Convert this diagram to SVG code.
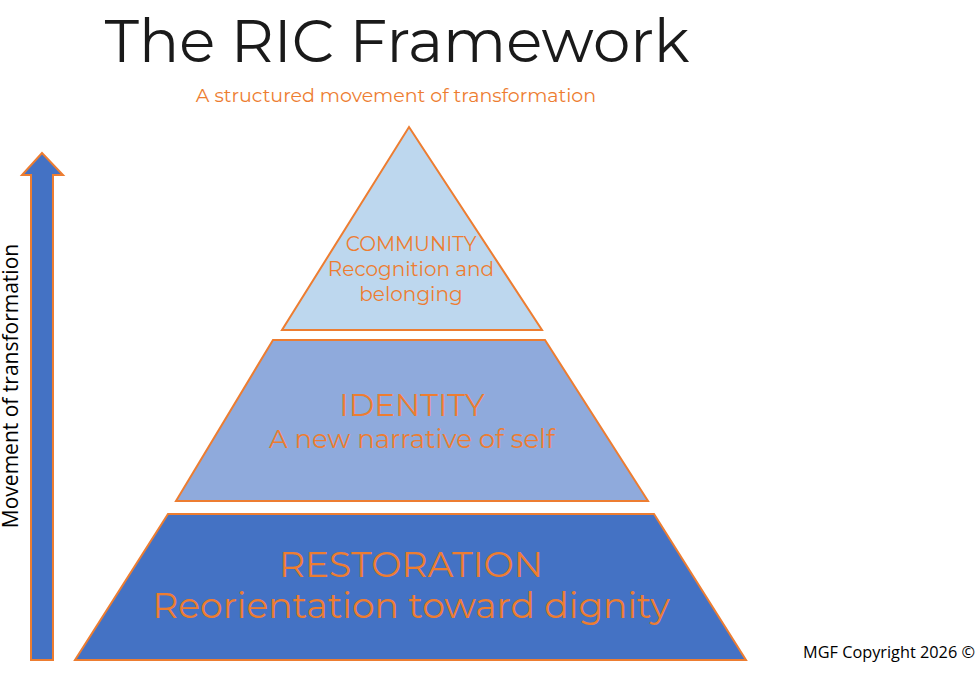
<svg xmlns="http://www.w3.org/2000/svg" width="979" height="681" viewBox="0 0 979 681">
<style>
.t{font-family:Montserrat,"Open Sans","Noto Sans",sans-serif;text-anchor:middle;fill:#ed7d31}
.s{stroke:#ed7d31;stroke-width:2}
</style>
<rect width="979" height="681" fill="#fff"/>
<text x="397" y="62" font-family="Montserrat,'Open Sans',sans-serif" font-size="59.5" fill="#1a1a1a" text-anchor="middle">The RIC Framework</text>
<text class="t" x="396" y="102" font-size="19">A structured movement of transformation</text>
<g id="arrow"><polygon class="s" fill="#4472c4" points="31,660 53,660 53,175 63,175 42,153 22,175 31,175"/></g>
<text x="18" y="386" font-family="'Open Sans',sans-serif" font-size="21" fill="#000" text-anchor="middle" transform="rotate(-90 18 386)">Movement of transformation</text>
<g id="community"><polygon class="s" fill="#bdd7ee" points="409,127 542,330 282,330"/>
<text class="t" x="411" y="251" font-size="20">COMMUNITY</text>
<text class="t" x="411" y="276" font-size="20">Recognition and</text>
<text class="t" x="411" y="301" font-size="20">belonging</text></g>
<g id="identity"><polygon class="s" fill="#8faadc" points="273,340 545,340 648,501 176,501"/>
<text class="t" x="412" y="416" font-size="31">IDENTITY</text>
<text class="t" x="412" y="448" font-size="26">A new narrative of self</text></g>
<g id="restoration"><polygon class="s" fill="#4472c4" points="168,514 654,514 746,660 75,660"/>
<text class="t" x="411" y="577" font-size="36">RESTORATION</text>
<text class="t" x="411" y="618" font-size="36">Reorientation toward dignity</text></g>
<text x="975" y="658" font-family="'Open Sans',sans-serif" font-size="16.3" fill="#000" text-anchor="end">MGF Copyright 2026 ©</text>
</svg>
